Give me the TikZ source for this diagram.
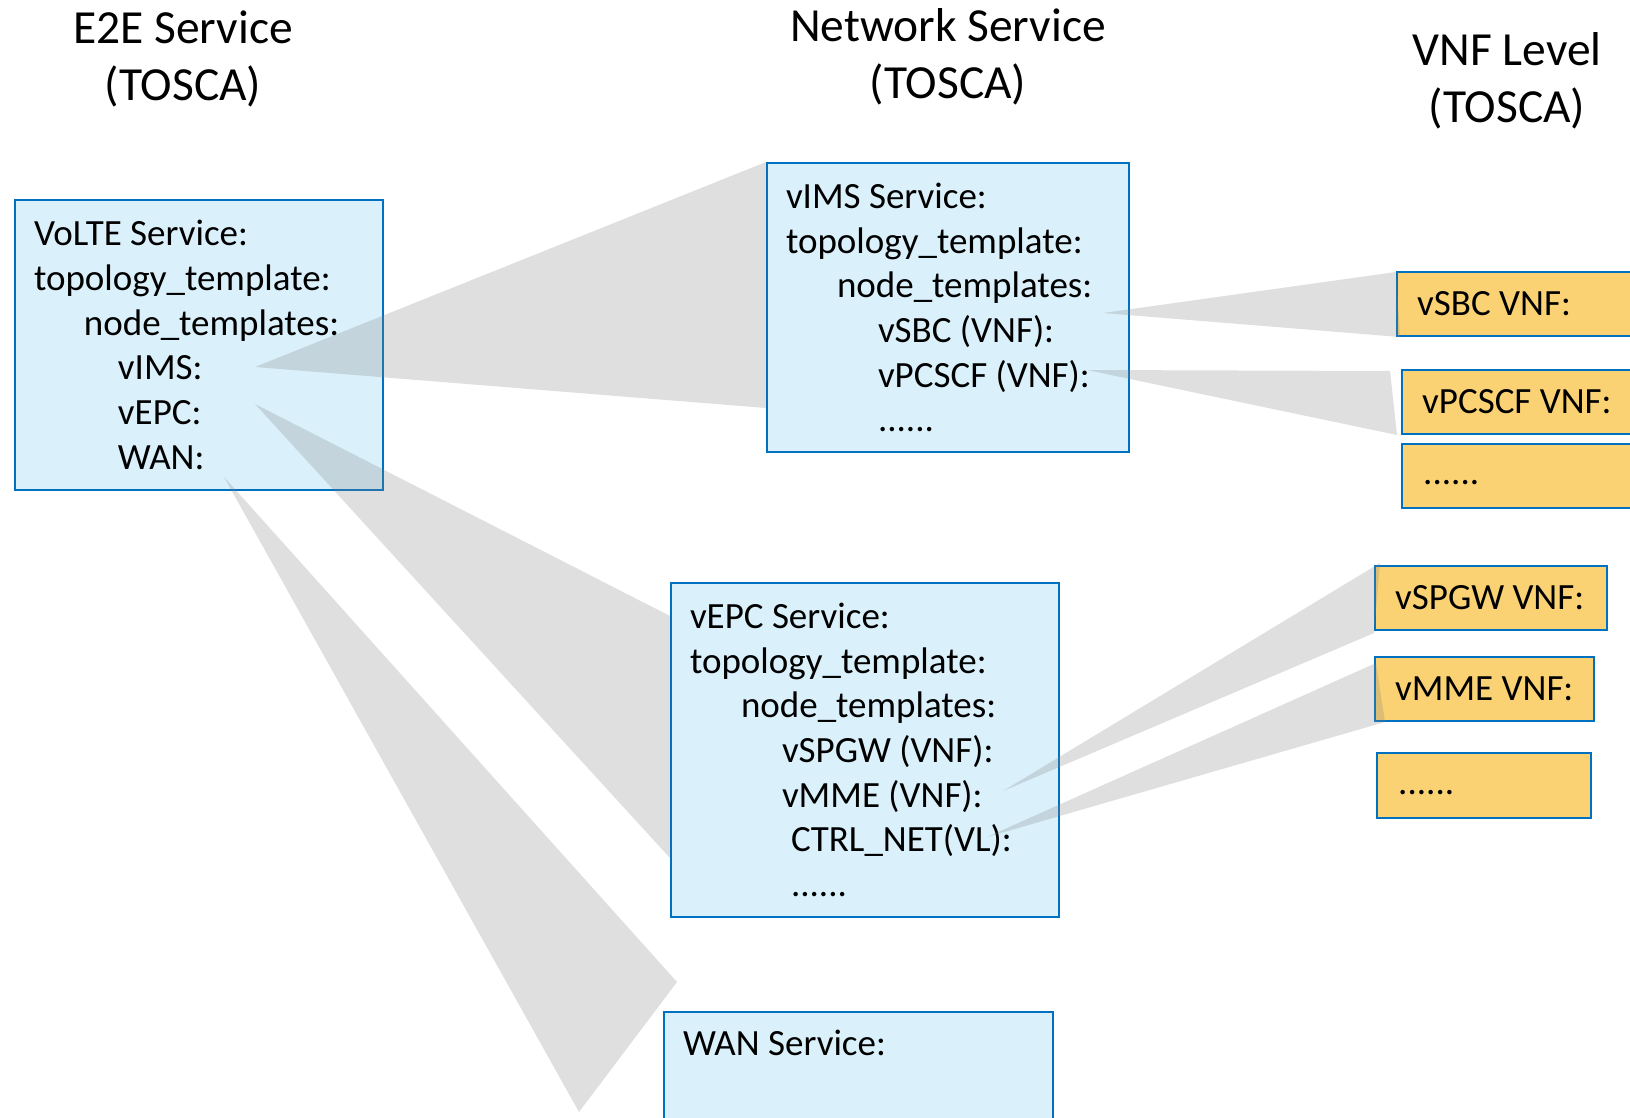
\documentclass[tikz,border=0pt]{standalone}
\usepackage{fontspec}
\setmainfont{Carlito}
\definecolor{boxblue}{RGB}{0,112,192}
\definecolor{boxfill}{RGB}{218,241,251}
\definecolor{vnffill}{RGB}{250,210,115}
\definecolor{wedgegray}{RGB}{128,128,128}
\begin{document}
\begin{tikzpicture}[x=1pt,y=-1pt,
  bodyfont/.style={font=\fontsize{37}{44.7}\selectfont, execute at begin node={\spaceskip=\fontdimen2\font\relax\xspaceskip=0pt\relax}},
  svc/.style={draw=boxblue, line width=2pt, fill=boxfill, anchor=north west, inner xsep=19pt, inner ysep=0pt, align=left, bodyfont},
  vnf/.style={draw=boxblue, line width=2pt, fill=vnffill, anchor=north west, inner sep=0pt},
  plain/.style={inner sep=0pt, anchor=west, bodyfont},
  title/.style={align=center, inner sep=0pt, font=\fontsize{47.5}{57}\selectfont, execute at begin node={\spaceskip=\fontdimen2\font\relax\xspaceskip=0pt\relax}},
  wedge/.style={fill=wedgegray, fill opacity=0.25}]
\useasboundingbox (0,0) rectangle (1630,1118);
\fill[white] (0,0) rectangle (1630,1118);
\clip (0,0) rectangle (1630,1118);

% titles
\node[title] (t1) at (183,59) {E2E Service\\(TOSCA)};
\node[title] (t2) at (948,57) {Network Service\\(TOSCA)};
\node[title] (t3) at (1507,81) {VNF Level\\(TOSCA)};

% service boxes
\node[svc, minimum height=290pt, text width=330pt] (volte) at (14,199)
 {VoLTE Service:\\topology\_template:\\\hspace*{50pt}node\_templates:\\\hspace*{84pt}vIMS:\\\hspace*{84pt}vEPC:\\\hspace*{84pt}WAN:};
\node[svc, minimum height=289pt, text width=324pt] (vims) at (766,162)
 {vIMS Service:\\topology\_template:\\\hspace*{51pt}node\_templates:\\\hspace*{92pt}vSBC (VNF):\\\hspace*{92pt}vPCSCF (VNF):\\\hspace*{92pt}......};
\node[svc, minimum height=334pt, text width=350pt] (vepc) at (670,582)
 {vEPC Service:\\topology\_template:\\\hspace*{51pt}node\_templates:\\\hspace*{92pt}vSPGW (VNF):\\\hspace*{92pt}vMME (VNF):\\\hspace*{101pt}CTRL\_NET(VL):\\\hspace*{101pt}......};
\node[svc, minimum height=200pt, minimum width=389pt] (wan) at (663,1011) {};
\node[plain] (wantext) at (683,1043) {WAN Service:};

% VNF boxes
\node[vnf, minimum height=64pt, minimum width=320pt] (vsbc) at (1396,271) {};
\node[vnf, minimum height=64pt, minimum width=320pt] (vpcscf) at (1401,369) {};
\node[vnf, minimum height=64pt, minimum width=320pt] (dots1) at (1401,443) {};
\node[vnf, minimum height=64pt, minimum width=232pt] (vspgw) at (1374,565) {};
\node[vnf, minimum height=64pt, minimum width=219pt] (vmme) at (1374,656) {};
\node[vnf, minimum height=65pt, minimum width=214pt] (dots2) at (1376,752) {};
\node[plain] (vsbct) at ([xshift=21pt]vsbc.west) {vSBC VNF:};
\node[plain] (vpcscft) at ([xshift=21pt]vpcscf.west) {vPCSCF VNF:};
\node[plain] (dots1t) at ([xshift=22pt]dots1.west) {\vphantom{Vg}......};
\node[plain] (vspgwt) at ([xshift=21pt]vspgw.west) {vSPGW VNF:};
\node[plain] (vmmet) at ([xshift=21pt]vmme.west) {vMME VNF:};
\node[plain] (dots2t) at ([xshift=22pt]dots2.west) {\vphantom{Vg}......};

% wedges
\coordinate (a1) at (255,367);
\coordinate (a2) at (255,404);
\coordinate (a3) at (224,477);
\coordinate (a4) at (1103,313);
\coordinate (a5) at (1087,370);
\coordinate (a6) at (1003,791);
\coordinate (a7) at (987,837);
\fill[wedge] (a1) -- (vims.north west) -- (766,408) -- cycle;
\fill[wedge] (a2) -- (670,616) -- (670,858) -- cycle;
\fill[wedge] (a3) -- (677,982) -- (579,1112) -- cycle;
\fill[wedge] (a4) -- (1396,272) -- (1400,337) -- cycle;
\fill[wedge] (a5) -- (1390,371) -- (1397,435) -- cycle;
\fill[wedge] (a6) -- (1380,563) -- (1374,633) -- cycle;
\fill[wedge] (a7) -- (1376,663) -- (1385,722) -- cycle;
\end{tikzpicture}
\end{document}
